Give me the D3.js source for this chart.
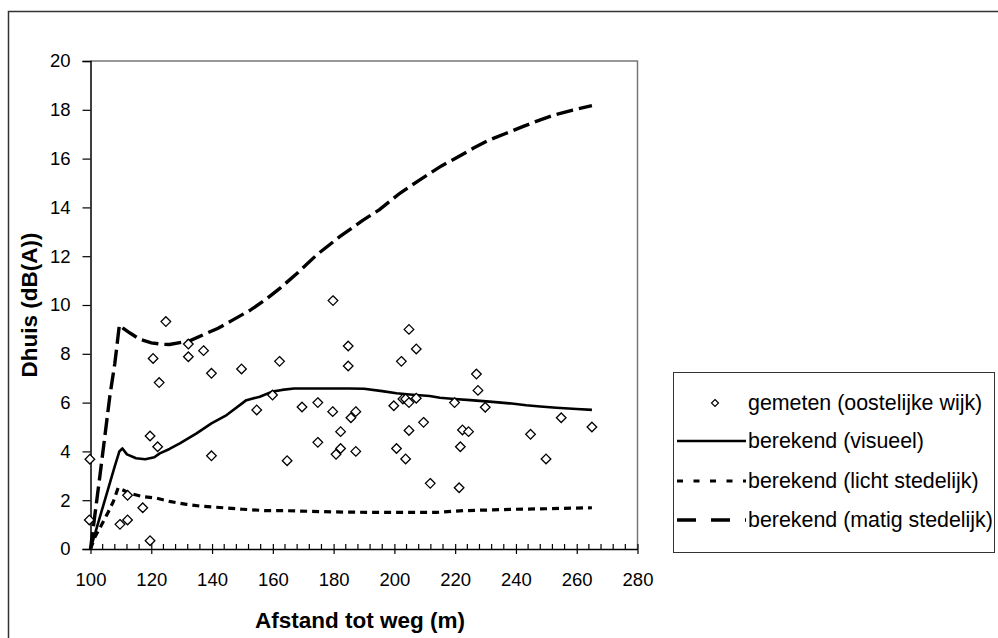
<!DOCTYPE html>
<html>
<head>
<meta charset="utf-8">
<script src="https://cdn.jsdelivr.net/npm/d3@7"></script>
<style>
  html, body { margin: 0; padding: 0; background: #fff; }
  svg { display: block; font-family: "Liberation Sans", Arial, sans-serif; }
</style>
</head>
<body>
<svg id="chart" width="998" height="638"></svg>
<script>
// ---- data ----
const measured = [
  [99.8,3.68],[99.6,1.19],[109.7,1.01],[112.2,1.19],[112.2,2.2],[117.2,1.69],[119.6,0.34],
  [119.6,4.63],[122.1,4.19],[120.6,7.81],[122.6,6.82],[124.8,9.32],[132.2,8.4],[132.2,7.88],
  [137.2,8.13],[139.8,7.2],[139.8,3.82],[149.7,7.38],[154.7,5.7],[159.9,6.31],[162.2,7.69],
  [164.7,3.62],[169.6,5.82],[174.8,6.0],[174.8,4.37],[179.8,10.18],[179.7,5.63],[180.8,3.88],
  [182.3,4.81],[182.3,4.12],[184.8,8.32],[184.8,7.5],[185.7,5.38],[187.3,5.63],[187.3,4.0],
  [199.8,5.87],[200.7,4.12],[202.3,7.69],[202.8,6.15],[203.7,6.15],[203.7,3.69],[204.8,9.0],
  [204.8,6.0],[204.8,4.86],[207.2,8.2],[207.2,6.18],[209.6,5.19],[211.8,2.69],[219.8,6.0],
  [221.3,2.51],[221.7,4.19],[222.4,4.88],[224.4,4.81],[227,7.17],[227.5,6.5],[229.9,5.81],
  [244.8,4.7],[249.9,3.69],[254.9,5.38],[265,5.0]
];
const visueel = [
  [100,0],[102,0.85],[104,1.7],[106,2.55],[108,3.4],[109.5,4.0],[110.5,4.12],[112,3.88],
  [115,3.72],[118,3.68],[121,3.76],[122.8,3.92],[126,4.1],[129.4,4.33],[134.9,4.74],
  [139.8,5.15],[144.8,5.49],[151.3,6.1],[155.7,6.24],[159.8,6.45],[163,6.52],[167,6.58],
  [175,6.58],[185,6.58],[190,6.57],[196,6.47],[200.7,6.38],[205,6.33],[211.6,6.27],
  [215,6.2],[219.8,6.15],[225,6.1],[231.3,6.04],[237.9,5.97],[243.4,5.89],[248,5.84],
  [253.3,5.79],[260,5.74],[265,5.7]
];
const licht = [
  [100,0],[101.5,0.5],[103.7,1.0],[105.9,1.53],[107.5,1.94],[109.1,2.51],[111,2.4],
  [113,2.28],[117,2.15],[121.8,2.08],[126,1.95],[131.6,1.83],[136,1.76],[141.5,1.71],
  [150,1.63],[157.9,1.57],[164.5,1.57],[180,1.52],[191.9,1.5],[205,1.5],[213.8,1.5],
  [222.6,1.57],[231.3,1.6],[240,1.63],[250,1.65],[265,1.69]
];
const matig = [
  [100,0],[103.1,3.0],[106.4,6.3],[108,7.6],[109.5,9.18],[110.8,9.04],[113,8.85],
  [116.3,8.59],[120,8.45],[123.9,8.39],[126,8.38],[129.4,8.46],[133,8.55],[138.2,8.84],
  [142,9.05],[146.9,9.39],[152.7,9.8],[157.4,10.2],[162.3,10.68],[168,11.3],[174.4,12.05],
  [182,12.8],[189.7,13.48],[195,13.9],[201.8,14.58],[208,15.1],[215.5,15.7],[220,16.0],
  [225.9,16.42],[231,16.75],[236.8,17.04],[242,17.3],[247.8,17.58],[253,17.8],[258.7,17.99],
  [265,18.17]
];
const xTicks = [100,120,140,160,180,200,220,240,260,280];
const yTicks = [0,2,4,6,8,10,12,14,16,18,20];
const legendLabels = [
  "gemeten (oostelijke wijk)",
  "berekend (visueel)",
  "berekend (licht stedelijk)",
  "berekend (matig stedelijk)"
];
const xTitle = "Afstand tot weg (m)";
const yTitle = "Dhuis (dB(A))";

// ---- drawing ----
const svg = d3.select("#chart");
const L = 90.5, R = 637.5, T = 61, B = 549;
const x = d3.scaleLinear().domain([100, 280]).range([L, R]);
const y = d3.scaleLinear().domain([0, 20]).range([B, T]);

// outer frame (extends beyond the window on right/bottom)
svg.append("rect").attr("x", 8.5).attr("y", 11.5).attr("width", 1100).attr("height", 700)
  .attr("fill", "#fff").attr("stroke", "#333").attr("stroke-width", 1.5);

// plot area top/right border
svg.append("path").attr("d", `M${L},${T}H${R}V${B}`)
  .attr("fill", "none").attr("stroke", "#777").attr("stroke-width", 1.5);

// y axis
const yAxis = d3.axisLeft(y).tickValues(yTicks).tickSize(8).tickPadding(12).tickFormat(d3.format("d"));
const gy = svg.append("g").attr("transform", `translate(${L},0)`).call(yAxis);
gy.select(".domain").attr("stroke", "#000").attr("stroke-width", 1.5);
gy.selectAll(".tick line").attr("stroke", "#000").attr("stroke-width", 1.2);
gy.selectAll(".tick text").attr("font-size", 18.5).attr("fill", "#000")
  .attr("font-family", "'Liberation Sans', Arial, sans-serif");

// x axis
const xAxis = d3.axisBottom(x).tickValues(xTicks).tickSize(5).tickPadding(19).tickSizeOuter(0).tickFormat(d3.format("d"));
const gx = svg.append("g").attr("transform", `translate(0,${B})`).call(xAxis);
gx.select(".domain").attr("stroke", "#000").attr("stroke-width", 1.5);
gx.selectAll(".tick line").attr("stroke", "#000").attr("stroke-width", 1.2).attr("y1", -5);
gx.selectAll(".tick text").attr("font-size", 18.5).attr("fill", "#000")
  .attr("font-family", "'Liberation Sans', Arial, sans-serif");
// minor ticks (inside)
gx.selectAll(".minor").data(d3.range(100, 281, 4).filter(v => v % 20 !== 0))
  .enter().append("line").attr("class", "minor")
  .attr("x1", d => x(d)).attr("x2", d => x(d)).attr("y1", 0).attr("y2", -5)
  .attr("stroke", "#000").attr("stroke-width", 1.2);

// axis titles
svg.append("text").attr("x", 360).attr("y", 628).attr("text-anchor", "middle")
  .attr("font-size", 22.5).attr("font-weight", "bold").text(xTitle);
svg.append("text").attr("transform", "translate(37,305) rotate(-90)").attr("text-anchor", "middle")
  .attr("font-size", 22.5).attr("font-weight", "bold").text(yTitle);

// lines
const line = d3.line().x(d => x(d[0])).y(d => y(d[1]));
svg.append("path").datum(visueel).attr("d", line).attr("fill", "none")
  .attr("stroke", "#000").attr("stroke-width", 2.6).attr("stroke-linejoin", "round");
svg.append("path").datum(licht).attr("d", line).attr("fill", "none")
  .attr("stroke", "#000").attr("stroke-width", 3.2).attr("stroke-dasharray", "7,5");
svg.append("path").datum(matig).attr("d", line).attr("fill", "none")
  .attr("stroke", "#000").attr("stroke-width", 3.4).attr("stroke-dasharray", "17,6");

// diamonds
const diamond = (cx, cy, r) => `M${cx},${cy - r}L${cx + r},${cy}L${cx},${cy + r}L${cx - r},${cy}Z`;
svg.append("g").selectAll("path").data(measured).enter().append("path")
  .attr("d", d => diamond(x(d[0]), y(d[1]), 4.8))
  .attr("fill", "#fff").attr("stroke", "#000").attr("stroke-width", 1.3);

// legend
const lg = svg.append("g");
lg.append("rect").attr("x", 673.5).attr("y", 372.5).attr("width", 321).attr("height", 180)
  .attr("fill", "#fff").attr("stroke", "#333").attr("stroke-width", 1);
const rowsY = [403, 441, 481, 520];
legendLabels.forEach((lab, i) => {
  const yy = rowsY[i];
  if (i === 0) {
    lg.append("path").attr("d", diamond(715, yy, 3.5)).attr("fill", "#fff")
      .attr("stroke", "#000").attr("stroke-width", 1.2);
  } else {
    const ln = lg.append("line").attr("x1", 677).attr("x2", 746).attr("y1", yy).attr("y2", yy)
      .attr("stroke", "#000");
    if (i === 1) ln.attr("stroke-width", 2.4);
    if (i === 2) ln.attr("stroke-width", 3.2).attr("stroke-dasharray", "6,10.5");
    if (i === 3) ln.attr("stroke-width", 3.4).attr("stroke-dasharray", "19,15");
  }
  lg.append("text").attr("x", 748).attr("y", yy + 7).attr("font-size", 21.4).text(lab);
});
</script>
</body>
</html>
